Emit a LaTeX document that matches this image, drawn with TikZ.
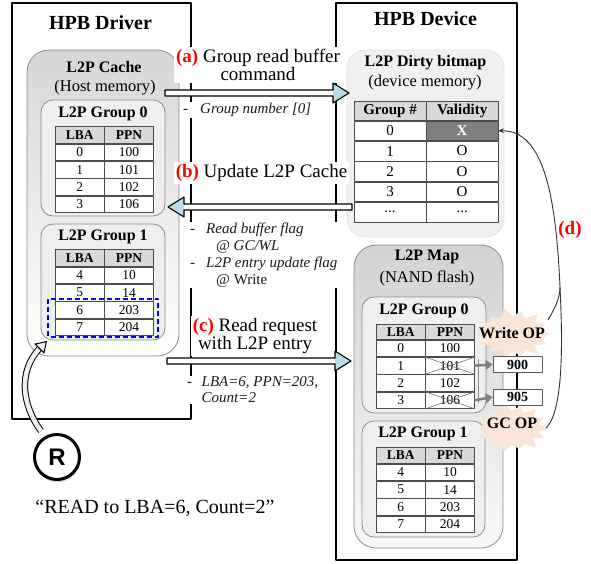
\documentclass[tikz,border=0pt]{standalone}
\usepackage{fontspec}
\setmainfont{Liberation Serif}
\newfontfamily\sansR{Liberation Sans}
\usetikzlibrary{matrix,arrows.meta,calc,shadows}

\definecolor{hdrgray}{HTML}{D9D9D9}
\definecolor{xgray}{HTML}{7F7F7F}
\definecolor{boxgray}{HTML}{EFEFEF}
\definecolor{edgegray}{HTML}{8C8C8C}
\definecolor{headblue}{HTML}{B7DEE8}
\definecolor{burstc}{HTML}{FBE5D6}
\definecolor{notecol}{HTML}{1A1A1A}

\newcommand\fs[1]{\fontsize{#1}{#1}\selectfont}
\newcommand\stepid[1]{\textcolor{red}{\textbf{(#1)}}}

% hollow block arrow from #1 to #2 (horizontal), white shaft and blue head
\newcommand\blockarrow[2]{%
  \path let \p1=(#1), \p2=(#2), \n1={(\x2>\x1)?16:-16} in
    coordinate (ba1) at (\x1,\y1+3pt)
    coordinate (ba2) at (\x2-\n1*1pt,\y1+3pt)
    coordinate (ba3) at (\x2-\n1*1pt,\y1+10pt)
    coordinate (ba4) at (\x2,\y1)
    coordinate (ba5) at (\x2-\n1*1pt,\y1-10pt)
    coordinate (ba6) at (\x2-\n1*1pt,\y1-3pt)
    coordinate (ba7) at (\x1,\y1-3pt);
  \fill[white] (ba1)--(ba2)--(ba6)--(ba7)--cycle;
  \fill[headblue] (ba3)--(ba4)--(ba5)--cycle;
  \draw[line width=1.1pt] (ba1)--(ba2)--(ba3)--(ba4)--(ba5)--(ba6)--(ba7)--cycle;}

% irregular starburst round #1 with radii #2, #3
\newcommand\burstshape[3]{%
  \fill[burstc] ($(#1)+(#2,0)$)
    \foreach \i/\f in {1/0.72,2/0.95,3/0.70,4/1.05,5/0.74,6/0.90,7/0.70,
      8/1.00,9/0.72,10/0.93,11/0.70,12/1.05,13/0.73,14/0.95,15/0.70,
      16/1.02,17/0.74,18/0.90,19/0.71,20/1.05,21/0.72,22/0.94,23/0.70,
      24/1.00,25/0.74,26/0.92,27/0.71}
    { -- ($(#1)+({#2*\f*cos(\i*360/28)},{#3*\f*sin(\i*360/28)})$) } -- cycle;}

\tikzset{
  panel/.style={draw=black, line width=1.7pt, inner sep=0pt, fill=white},
  bigbox/.style={draw=edgegray, line width=0.8pt, inner sep=0pt},
  grpbox/.style={draw=edgegray, fill=boxgray, line width=0.8pt, inner sep=0pt,
    rounded corners=12pt, minimum width=124pt, minimum height=116pt},
  paneltitle/.style={font=\fs{20}\bfseries, inner sep=0pt},
  boxtitle/.style={font=\fs{16}\bfseries, inner sep=0pt},
  boxsub/.style={font=\fs{16.5}, inner sep=0pt},
  maptable/.style={matrix of nodes, inner sep=0pt, outer sep=0pt,
    row sep=0pt, column sep=0pt,
    nodes={draw=black!70, line width=0.6pt, outer sep=0pt, inner sep=0pt,
      fill=white, font=\fs{13.5}, minimum width=48.75pt, minimum height=16.75pt,
      anchor=center},
    row 1/.style={nodes={fill=hdrgray, font=\fs{13.5}\bfseries, minimum height=#1}}},
  bittable/.style={matrix of nodes, inner sep=0pt, outer sep=0pt,
    row sep=0pt, column sep=0pt,
    nodes={draw=black!70, line width=0.6pt, outer sep=0pt, inner sep=0pt,
      fill=white, font=\fs{15}, minimum width=71.5pt, minimum height=19.7pt,
      anchor=center},
    row 1/.style={nodes={fill=hdrgray, font=\fs{15}\bfseries, minimum height=19pt}}},
  crossline/.style={draw=black!55, line width=0.6pt},
  updarrow/.style={draw=black!50, line width=2.5pt, -{Triangle[length=7pt,width=10pt]}},
  valbox/.style={draw=black!65, fill=white, line width=0.8pt, inner sep=0pt,
    minimum width=49pt, minimum height=16pt, font=\fs{14}\bfseries},
  bursttext/.style={font=\fs{16}\bfseries, inner sep=0pt},
  steplabel/.style={fill=white, inner sep=2pt, font=\fontsize{19}{16.5}\selectfont, align=center},
  note/.style={fill=white, inner sep=1pt, font=\fontsize{15}{17}\selectfont\itshape,
    align=left, anchor=west, text=notecol},
  selbox/.style={draw=blue, line width=2pt, dash pattern=on 5pt off 3pt},
  curvearrow/.style={draw=black!80, line width=0.9pt},
}

\begin{document}
\begin{tikzpicture}[x=1pt, y=-1pt, line join=round]
\useasboundingbox (0,0) rectangle (591,563);

% ---------- host and device panels ----------
\node[panel, minimum width=179pt, minimum height=416pt] (drv) at (101.5,211) {};
\node[panel, minimum width=181pt, minimum height=557pt] (dev) at (426.5,281.5) {};
\node[paneltitle] (drvT) at (100.5,23) {HPB Driver};
\node[paneltitle] (devT) at (425.5,19) {HPB Device};

% ---------- L2P cache in host memory ----------
\node[bigbox, top color=gray!32, bottom color=white, rounded corners=22pt,
  minimum width=152pt, minimum height=306pt] (cache) at (103,203) {};
\node[boxtitle] (cacheT) at (104,67) {L2P Cache};
\node[boxsub] (cacheS) at (105,88) {(Host memory)};

\node[grpbox] (hg0) at (103,158) {};
\node[boxtitle] (hg0T) at (103,114) {L2P Group 0};
\matrix[maptable=17pt, anchor=north west] (hg0t) at (55,126)
  {LBA & PPN\\ 0 & 100\\ 1 & 101\\ 2 & 102\\ 3 & 106\\};

\node[grpbox] (hg1) at (103,282) {};
\node[boxtitle] (hg1T) at (103,237) {L2P Group 1};
\matrix[maptable=17pt, anchor=north west] (hg1t) at (55,249)
  {LBA & PPN\\ 4 & 10\\ 5 & 14\\ 6 & 203\\ 7 & 204\\};
\draw[selbox] ($(hg1t-4-1.north west)+(-7,-2.5)$) rectangle ($(hg1t-5-2.south east)+(5,1)$);

% ---------- dirty bitmap in device memory ----------
\node[bigbox, draw=gray!20, fill=gray!12, rounded corners=18pt,
  minimum width=157pt, minimum height=187pt] (bmp) at (425.5,143.5) {};
\node[boxtitle] (bmpT) at (425.5,63) {L2P Dirty bitmap};
\node[boxsub] (bmpS) at (425,83) {(device memory)};
\matrix[bittable, anchor=north west] (bmt) at (354,101)
  {Group \# & Validity\\
   0 & |[fill=xgray, text=white, font=\fs{15}\bfseries]| X\\
   1 & O\\ 2 & O\\ 3 & O\\ ... & ...\\};

% ---------- L2P map in NAND flash ----------
\node[bigbox, top color=gray!35, bottom color=gray!5, rounded corners=22pt,
  minimum width=149pt, minimum height=303pt] (map) at (428.5,396.5) {};
\node[boxtitle] (mapT) at (427,257) {L2P Map};
\node[boxsub] (mapS) at (427,278) {(NAND flash)};

\node[grpbox] (dg0) at (424,355) {};
\node[boxtitle] (dg0T) at (424,311) {L2P Group 0};
\matrix[maptable=15pt, anchor=north west] (dg0t) at (376,324)
  {LBA & PPN\\ 0 & 100\\ 1 & 101\\ 2 & 102\\ 3 & 106\\};

\node[grpbox, minimum width=123pt] (dg1) at (423.5,479) {};
\node[boxtitle] (dg1T) at (423,434) {L2P Group 1};
\matrix[maptable=16pt, anchor=north west] (dg1t) at (376,447)
  {LBA & PPN\\ 4 & 10\\ 5 & 14\\ 6 & 203\\ 7 & 204\\};

% stale entries crossed out
\foreach \r in {3,5} {
  \draw[crossline] (dg0t-\r-2.north west) -- (dg0t-\r-2.south east)
                   (dg0t-\r-2.south west) -- (dg0t-\r-2.north east);
}

% write / GC operations
\coordinate (wop) at (513,334);
\coordinate (gcop) at (512,428);
\burstshape{wop}{39}{25}
\burstshape{gcop}{38}{24}
\node[bursttext] (wopT) at (512,333) {Write OP};
\node[bursttext] (gcopT) at (512,423) {GC OP};

\node[valbox] (v900) at (517.5,364.5) {900};
\node[valbox] (v905) at (517.5,397) {905};
\draw[black!45, line width=0.8pt] ($(dg0t-3-2.east)+(4,-7)$) -- ($(dg0t-5-2.east)+(4,3)$);
\draw[updarrow] (dg0t-3-2.east) -- (v900.west);
\draw[updarrow] (dg0t-5-2.east) -- (v905.west);

% ---------- step labels and notes ----------
\node[steplabel] (labA) at (258,65) {\stepid{a} Group read buffer\\command};
\node[steplabel] (labB) at (261.5,173) {\stepid{b} Update L2P Cache};
\node[steplabel] (labC) at (255,336) {\stepid{c} Read request\\with L2P entry};

\node[note] (nA) at (182,110) {\makebox[17pt][l]{-}Group number [0]};
\node[note] (nB) at (189,255) {\makebox[16pt][l]{-}Read buffer flag\\
  \hspace*{26pt}@ GC/WL\\
  \makebox[16pt][l]{-}L2P entry update flag\\
  \hspace*{26pt}{\upshape @ Write}};
\node[note, font=\fontsize{15}{16}\selectfont\itshape] (nC) at (186,390)
  {\makebox[14.5pt][l]{-}LBA=6, PPN=203,\\\hspace*{14.5pt}Count=2};

% ---------- request / response arrows ----------
\coordinate (aFrom) at (165,93);  \coordinate (aTo) at (349,93);
\coordinate (bFrom) at (352,207); \coordinate (bTo) at (168,207);
\coordinate (cFrom) at (167,361); \coordinate (cTo) at (351,361);
\blockarrow{aFrom}{aTo}
\blockarrow{bFrom}{bTo}
\blockarrow{cFrom}{cTo}

% ---------- (d) bitmap update ----------
\coordinate (dW) at (548,320);
\coordinate (dG) at (546,428);
\coordinate (dJ) at (560,287);
\draw[curvearrow] (dW) .. controls (555,308) and (560,298) .. (dJ);
\draw[curvearrow] (dG) .. controls (565,410) and (562,330) .. (dJ);
\draw[curvearrow, -{Stealth[length=6pt,width=4.5pt]}]
  (dJ) .. controls (556,200) and (545,130) .. (bmt-2-2.east);
\node[font=\fs{19}\bfseries, text=red, inner sep=0pt] (labD) at (570,230) {(d)};

% ---------- read request ----------
\node[circle, draw, line width=3pt, fill=white, minimum size=45pt, inner sep=0pt,
  font=\sansR\fs{24}\bfseries,
  drop shadow={shadow xshift=0.5pt, shadow yshift=-3pt, opacity=0.3}] (rc) at (57,457) {R};
\coordinate (rS) at (41,431);
\coordinate (rB) at (39,349);
\coordinate (rTip) at (47,341);
\draw[line width=1pt, double=gray!12, double distance=4.5pt] (rS) .. controls (22,405) and (18,372) .. (rB);
\draw[line width=1pt, -{Triangle[fill=gray!12, length=11pt, width=14pt]}] (rB) -- (rTip);
\node[font=\fs{20}, inner sep=0pt] (cmd) at (155,508) {“READ to LBA=6, Count=2”};
\end{tikzpicture}
\end{document}
